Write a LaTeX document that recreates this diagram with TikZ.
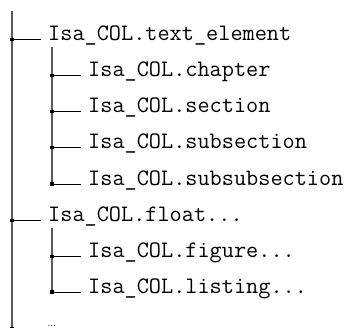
\documentclass[tikz,border=0pt]{standalone}
\begin{document}
\begin{tikzpicture}[x=1pt,y=-1pt,
  vline/.style={draw=black!65,line width=1.3pt},
  hline/.style={draw=black,line width=0.9pt},
  jdot/.style={fill=black,inner sep=0pt,minimum size=3.2pt,draw=none},
  lbl/.style={anchor=base west,inner sep=0pt,font=\fontsize{23.6pt}{28pt}\selectfont\ttfamily}]
\useasboundingbox (0,0) rectangle (353,327);
% rows
\coordinate (t0) at (12,11);
\coordinate (b0) at (12,340);
\draw[vline] (t0) -- (b0);
\coordinate (t1) at (52,47);
\coordinate (b1) at (52,184);
\draw[vline] (t1) -- (b1);
\coordinate (t2) at (52,228);
\coordinate (b2) at (52,292);
\draw[vline] (t2) -- (b2);
% level 1
\node[jdot] (j1) at (12,39.5) {};
\node[lbl] (n1) at (48,40.8) {Isa\_COL.text\_element};
\coordinate (e1) at (41,39.5);
\draw[hline] (j1.center) -- (e1);
\node[jdot] (j2) at (52,75.5) {};
\node[lbl] (n2) at (88,76.8) {Isa\_COL.chapter};
\coordinate (e2) at (81,75.5);
\draw[hline] (j2.center) -- (e2);
\node[jdot] (j3) at (52,111.5) {};
\node[lbl] (n3) at (88,112.8) {Isa\_COL.section};
\coordinate (e3) at (81,111.5);
\draw[hline] (j3.center) -- (e3);
\node[jdot] (j4) at (52,147.5) {};
\node[lbl] (n4) at (88,148.8) {Isa\_COL.subsection};
\coordinate (e4) at (81,147.5);
\draw[hline] (j4.center) -- (e4);
\node[jdot] (j5) at (52,184) {};
\node[lbl] (n5) at (88,185.3) {Isa\_COL.subsubsection};
\coordinate (e5) at (81,184);
\draw[hline] (j5.center) -- (e5);
\node[jdot] (j6) at (12,220.5) {};
\node[lbl] (n6) at (48,221.8) {Isa\_COL.float...};
\coordinate (e6) at (41,220.5);
\draw[hline] (j6.center) -- (e6);
\node[jdot] (j7) at (52,256.5) {};
\node[lbl] (n7) at (88,257.8) {Isa\_COL.figure...};
\coordinate (e7) at (81,256.5);
\draw[hline] (j7.center) -- (e7);
\node[jdot] (j8) at (52,292) {};
\node[lbl] (n8) at (88,293.3) {Isa\_COL.listing...};
\coordinate (e8) at (81,292);
\draw[hline] (j8.center) -- (e8);
\node[jdot] (j9) at (12,328.2) {};
\node[anchor=base west,inner sep=0pt,font=\fontsize{10pt}{12pt}\selectfont] (n9) at (47.5,326.9) {...};
\coordinate (e9) at (41,328.2);
\draw[hline] (j9.center) -- (e9);
\end{tikzpicture}
\end{document}
